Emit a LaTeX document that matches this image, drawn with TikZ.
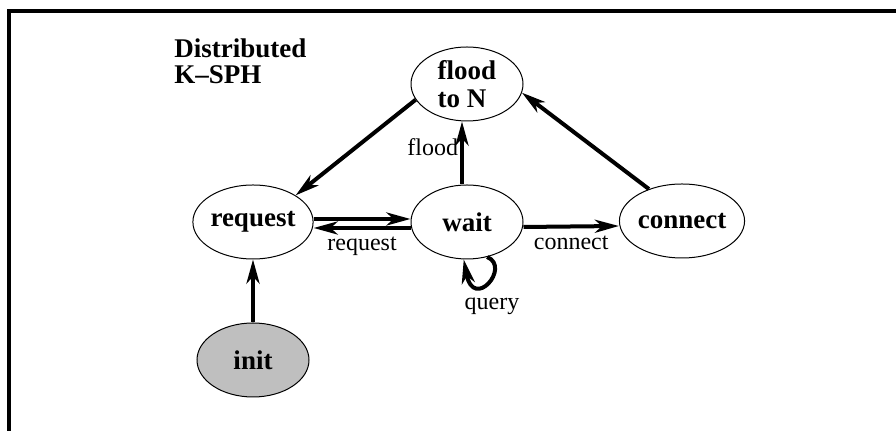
\documentclass[tikz,border=0pt]{standalone}
\usepackage{fontspec}
\setmainfont{Liberation Serif}
\usetikzlibrary{shapes.geometric,arrows.meta}

\begin{document}
\begin{tikzpicture}[x=0.5pt,y=-0.5pt,
    state/.style={ellipse,draw,line width=.5pt,minimum width=56pt,minimum height=37pt,inner sep=0pt,
      font=\bfseries\fontsize{13.5}{14}\selectfont},
    arr/.style={line width=2pt,-{Stealth[length=12pt,width=6.5pt,inset=3.5pt]}},
    lbl/.style={font=\fontsize{12}{14}\selectfont,inner sep=1pt}]
  \useasboundingbox (0,0) rectangle (896,431);
  \draw[line width=1.8pt] (9,431)--(9,11)--(896,11);
  \node[anchor=north west,align=left,inner sep=0pt,font=\bfseries\fontsize{13.5}{13}\selectfont] (title) at (174,38) {Distributed\\K--SPH};
  % states
  \node[state,align=left] (flood) at (467,84) {flood\\to N};
  \foreach \N/\X/\Y in {request/253/222, wait/467/222, connect/682/221}{
    \node[state] (\N) at (\X,\Y) {\N};
  }
  \node[state,fill=black!25] (init) at (253,360) {init};
  % transitions
  \draw[arr] (flood.197) -- (request.32);
  \draw[arr] ([yshift=1.5pt]request.east) -- ([yshift=1.5pt]wait.west);
  \draw[arr] ([yshift=-3pt]wait.west) -- node[lbl,below=2.5pt] (lrequest) {request} ([yshift=-3pt]request.east);
  \draw[arr] ([xshift=-2.5pt]wait.north) -- node[lbl,left,pos=.6] (lflood) {flood} ([xshift=-2.5pt]flood.south);
  \draw[arr] ([yshift=-2.5pt]wait.east) -- node[lbl,below=2.5pt] (lconnect) {connect} ([yshift=-2.5pt]connect.west);
  \draw[arr] (connect.136) -- (flood.-9);
  \draw[arr] (init) -- (request);
  \draw[arr] (wait.-60) .. controls +(24,10) and +(10,52) .. (wait.-95);
  \node[lbl] (lquery) at (492,306) {query};
\end{tikzpicture}
\end{document}
